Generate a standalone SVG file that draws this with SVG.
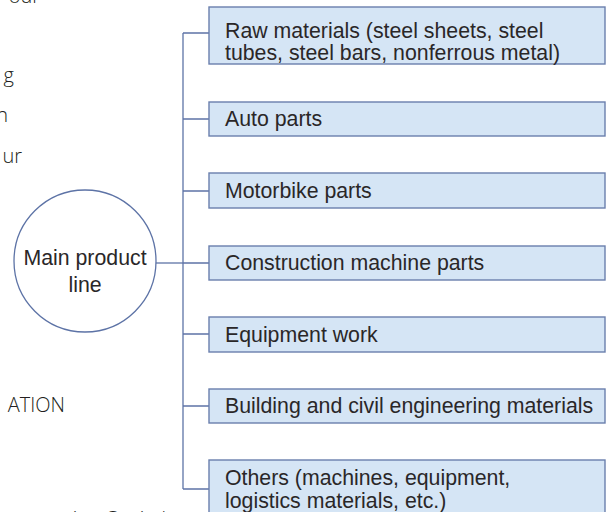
<svg xmlns="http://www.w3.org/2000/svg" width="606" height="512" viewBox="0 0 606 512">
<style>
.box{fill:#d5e5f5;stroke:#6a7fad;stroke-width:1.4}
.t{font-family:"Liberation Sans",Arial,sans-serif;font-size:21.3px;fill:#2a2728}
.frag{font-family:"Open Sans","DejaVu Sans",sans-serif;font-weight:300;font-size:20px;fill:#231f20;text-anchor:end}
.ln{fill:none;stroke:#5d73a6;stroke-width:1.3}
</style>
<rect width="606" height="512" fill="#ffffff"/>
<g id="page-fragments">
<text class="frag" x="40" y="3">our</text>
<text class="frag" x="14" y="82">g</text>
<text class="frag" x="8" y="122">n</text>
<text class="frag" x="22" y="163">ur</text>
<text class="frag" x="65" y="412">ATION</text>
<text class="frag" x="166" y="526">ting Capital</text>
</g>
<g id="connectors">
<path class="ln" d="M183 33 V489"/>
<path class="ln" d="M156 263 H183"/>
<path class="ln" d="M183 33 H209 M183 119 H209 M183 191 H209 M183 263 H209 M183 334 H209 M183 406 H209 M183 489 H209"/>
</g>
<g id="main">
<circle cx="85" cy="261" r="71" fill="#ffffff" stroke="#5d73a6" stroke-width="1.3"/>
<text class="t" x="85" y="265" text-anchor="middle">Main product</text>
<text class="t" x="85" y="292" text-anchor="middle">line</text>
</g>
<g id="raw">
<rect class="box" x="209" y="7" width="396" height="57"/>
<text class="t" x="225" y="38">Raw materials (steel sheets, steel</text>
<text class="t" x="225" y="60">tubes, steel bars, nonferrous metal)</text>
</g>
<g id="auto">
<rect class="box" x="209" y="102" width="396" height="34"/>
<text class="t" x="225" y="126">Auto parts</text>
</g>
<g id="motorbike">
<rect class="box" x="209" y="173" width="396" height="35"/>
<text class="t" x="225" y="198">Motorbike parts</text>
</g>
<g id="construction">
<rect class="box" x="209" y="246" width="396" height="34"/>
<text class="t" x="225" y="270">Construction machine parts</text>
</g>
<g id="equipment">
<rect class="box" x="209" y="317" width="396" height="35"/>
<text class="t" x="225" y="342">Equipment work</text>
</g>
<g id="building">
<rect class="box" x="209" y="389" width="396" height="34"/>
<text class="t" x="225" y="413">Building and civil engineering materials</text>
</g>
<g id="others">
<rect class="box" x="209" y="460" width="396" height="60"/>
<text class="t" x="225" y="485">Others (machines, equipment,</text>
<text class="t" x="225" y="508">logistics materials, etc.)</text>
</g>
</svg>
